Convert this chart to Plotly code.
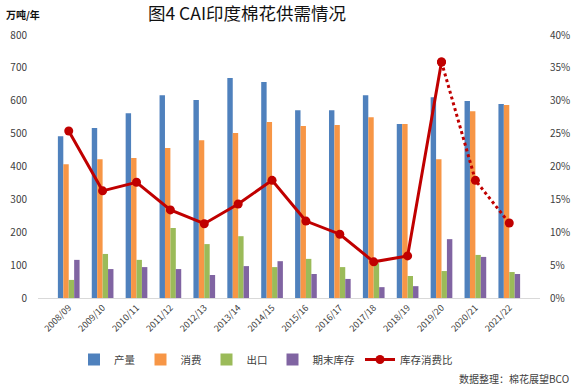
import plotly.graph_objects as go

seasons = ["2008/09", "2009/10", "2010/11", "2011/12", "2012/13", "2013/14", "2014/15",
           "2015/16", "2016/17", "2017/18", "2018/19", "2019/20", "2020/21", "2021/22"]
production = [492, 517, 562, 617, 602, 669, 657, 571, 571, 617, 529, 611, 599, 590]
consumption = [407, 422, 426, 456, 480, 502, 535, 523, 526, 550, 529, 422, 568, 587]
exports = [55, 134, 116, 213, 164, 188, 94, 119, 94, 106, 67, 82, 131, 79]
ending_stock = [116, 88, 94, 88, 70, 97, 112, 73, 58, 33, 36, 179, 125, 73]
stock_ratio = [25.4, 16.3, 17.6, 13.4, 11.3, 14.3, 17.9, 11.7, 9.7, 5.5, 6.4, 35.9, 17.9, 11.4]

FONT = "Noto Sans CJK SC"
W, H = 579, 392
L, R, T, B = 38, 39, 35, 94

fig = go.Figure()
colors = ["#4F81BD", "#F79646", "#9BBB59", "#8064A2"]
names = ["产量", "消费", "出口", "期末库存"]
for vals, c, n in zip([production, consumption, exports, ending_stock], colors, names):
    fig.add_trace(go.Bar(x=seasons, y=vals, name=n, marker_color=c, marker_line_width=0))

fig.add_trace(go.Scatter(x=seasons[:12], y=stock_ratio[:12], name="库存消费比", yaxis="y2",
                         mode="lines+markers", line=dict(color="#C00000", width=3),
                         marker=dict(size=9, color="#C00000")))
fig.add_trace(go.Scatter(x=seasons[11:], y=stock_ratio[11:], name="库存消费比", yaxis="y2",
                         mode="lines+markers", line=dict(color="#C00000", width=3, dash="dot"),
                         marker=dict(size=9, color="#C00000"), showlegend=False))

plot_h = H - T - B
plot_w = W - L - R

fig.update_layout(
    width=W, height=H,
    margin=dict(l=L, r=R, t=T, b=B, autoexpand=False),
    paper_bgcolor="white", plot_bgcolor="white",
    font=dict(family=FONT, size=10, color="#404040"),
    barmode="group", bargap=0.36, bargroupgap=0,
    title=dict(text="图4 CAI印度棉花供需情况", x=(247 - L) / plot_w, xref="paper",
               xanchor="center", y=1 - 14 / H, yanchor="middle",
               font=dict(family=FONT, size=17.5, color="#111111")),
    xaxis=dict(showline=True, linecolor="#D9D9D9", linewidth=1, tickangle=-45,
               tickfont=dict(size=9, color="#404040"), showgrid=False, ticks="",
               automargin=False),
    yaxis=dict(range=[0, 800], dtick=100, showgrid=False, zeroline=False,
               tickfont=dict(size=10, color="#404040"), ticks="", automargin=False,
               ticklabelstandoff=10),
    yaxis2=dict(range=[0, 40], dtick=5, overlaying="y", side="right", showgrid=False,
                zeroline=False, ticksuffix="%", tickfont=dict(size=10, color="#404040"),
                automargin=False, ticklabelstandoff=9),
    legend=dict(orientation="h", x=(266 - L) / plot_w, xanchor="center",
                y=(298 - 345) / plot_h, yanchor="top",
                font=dict(size=10.5, color="#404040"), itemwidth=30),
    annotations=[
        dict(text="<b>万吨/年</b>", x=(4 - L) / plot_w, y=(298 - 14) / plot_h,
             xref="paper", yref="paper", showarrow=False,
             xanchor="left", yanchor="middle", font=dict(size=10, color="#111111")),
        dict(text="数据整理：棉花展望BCO", x=(571 - L) / plot_w, y=(298 - 378) / plot_h,
             xref="paper", yref="paper", showarrow=False,
             xanchor="right", yanchor="middle", font=dict(size=10, color="#404040")),
    ],
)

fig.write_html("out.html", config={"displayModeBar": False},
               post_script="document.body.style.margin='0';document.body.style.padding='0';")
